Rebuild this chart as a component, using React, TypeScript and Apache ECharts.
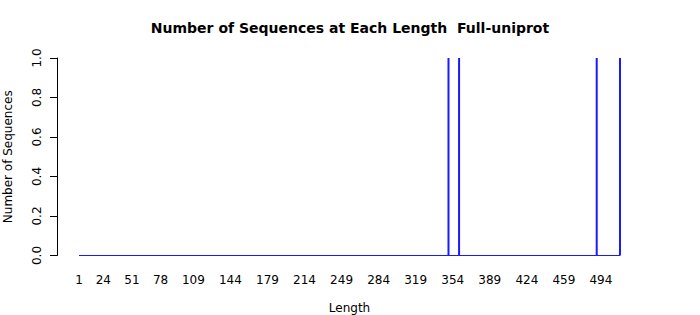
import React, { useEffect, useRef } from "react";
import * as echarts from "echarts";

const lengths: number[] = Array.from({ length: 512 }, (_, i) => i + 1);
const spikeLengths = [350, 360, 490, 512];
const spikeCounts = [1, 1, 1, 1];
const tickLabels = [1, 24, 51, 78, 109, 144, 179, 214, 249, 284, 319, 354, 389, 424, 459, 494];
const yTicks = [0, 0.2, 0.4, 0.6, 0.8, 1.0];

const counts: number[] = lengths.map((l) => {
  const i = spikeLengths.indexOf(l);
  return i >= 0 ? spikeCounts[i] : 0;
});

const FONT = "DejaVu Sans";
const BLUE = "#1a1aff";

export default function App() {
  const ref = useRef<HTMLDivElement>(null);
  useEffect(() => {
    document.body.style.margin = "0";
    const chart = echarts.init(ref.current!, null, { renderer: "svg" });
    chart.setOption({
      animation: false,
      backgroundColor: "#ffffff",
      title: {
        text: "Number of Sequences at Each Length  Full-uniprot",
        left: "center",
        top: 16,
        textStyle: { fontFamily: FONT, fontSize: 14, fontWeight: "bold", color: "#000" },
      },
      grid: { left: 79, right: 80, top: 58, bottom: 59.5, containLabel: false, outerBoundsMode: "none" },
      xAxis: {
        type: "category",
        data: lengths.map(String),
        boundaryGap: false,
        axisLine: { show: false },
        axisTick: { show: false },
        axisLabel: {
          interval: (_i: number, v: string) => tickLabels.includes(Number(v)),
          margin: 18,
          fontFamily: FONT,
          fontSize: 12,
          color: "#000",
        },
        name: "Length",
        nameLocation: "middle",
        nameGap: 46,
        nameTextStyle: { fontFamily: FONT, fontSize: 12, color: "#000" },
      },
      yAxis: {
        type: "value",
        min: 0,
        max: 1,
        interval: 0.2,
        offset: 22,
        splitLine: { show: false },
        axisLine: { show: true, lineStyle: { color: "#000", width: 1 } },
        axisTick: { show: true, length: 7, lineStyle: { color: "#000" } },
        axisLabel: {
          rotate: 90,
          margin: 14,
          fontFamily: FONT,
          fontSize: 12,
          color: "#000",
          formatter: (v: number) => (yTicks.some((t) => Math.abs(t - v) < 1e-9) ? v.toFixed(1) : ""),
        },
        name: "Number of Sequences",
        nameLocation: "middle",
        nameRotate: 90,
        nameGap: 43,
        nameTextStyle: { fontFamily: FONT, fontSize: 12, color: "#000" },
      },
      series: [
        {
          type: "bar",
          data: counts,
          barWidth: 2,
          clip: false,
          itemStyle: { color: BLUE },
          markLine: {
            silent: true,
            symbol: ["none", "none"],
            label: { show: false },
            lineStyle: { color: BLUE, width: 1, type: "solid" },
            data: [{ yAxis: 0 }],
          },
        },
      ],
    });
    return () => chart.dispose();
  }, []);
  return <div ref={ref} style={{ width: 700, height: 315 }} />;
}
